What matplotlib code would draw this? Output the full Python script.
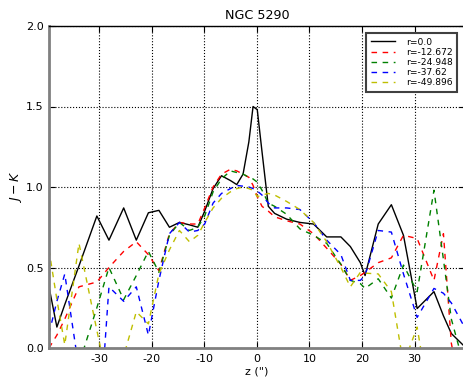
import matplotlib
matplotlib.use("Agg")
import matplotlib.pyplot as plt

plt.rcParams['font.family'] = ['DejaVu Sans']
plt.rcParams['axes.unicode_minus'] = False

# Position along the slit (arcsec)
z = [-39.5, -38.0, -36.5, -33.8, -30.4, -28.1, -25.3, -22.9, -20.6, -18.6,
     -16.6, -14.7, -12.8, -11.2, -9.9, -8.3, -6.7, -5.0, -3.8, -2.6,
     -1.5, -0.7, 0.1, 1.0, 2.2, 3.4, 5.7, 8.2, 10.8, 13.3,
     16.0, 17.8, 19.7, 20.6, 23.1, 25.6, 27.9, 30.5, 33.7, 35.5,
     37.0, 39.5]

# J-K colour profiles at several offsets r
jk_r0 = [0.38, 0.13, 0.27, 0.51, 0.82, 0.67, 0.87, 0.67, 0.84, 0.855,
         0.75, 0.78, 0.765, 0.75, 0.85, 0.99, 1.07, 1.04, 1.015, 1.08,
         1.28, 1.50, 1.48, 1.22, 0.88, 0.836, 0.80, 0.78, 0.77, 0.69,
         0.69, 0.63, 0.53, 0.45, 0.77, 0.89, 0.70, 0.245, 0.35, 0.20,
         0.09, 0.01]
jk_r1 = [0.00, 0.08, 0.18, 0.38, 0.41, 0.50, 0.60, 0.66, 0.58, 0.48,
         0.71, 0.78, 0.77, 0.77, 0.87, 1.00, 1.08, 1.11, 1.10, 1.08,
         1.06, 1.01, 0.94, 0.88, 0.85, 0.815, 0.79, 0.77, 0.71, 0.62,
         0.52, 0.42, 0.45, 0.47, 0.53, 0.56, 0.70, 0.68, 0.42, 0.71,
         0.03, -0.40]
jk_r2 = [-0.30, -0.30, -0.30, -0.10, 0.25, 0.50, 0.30, 0.45, 0.60, 0.47,
         0.70, 0.78, 0.73, 0.75, 0.82, 0.97, 1.05, 1.10, 1.09, 1.08,
         1.06, 1.05, 1.03, 0.98, 0.90, 0.88, 0.83, 0.74, 0.70, 0.65,
         0.52, 0.42, 0.40, 0.37, 0.43, 0.31, 0.515, 0.35, 0.98, 0.55,
         0.18, -0.12]
jk_r3 = [0.09, 0.29, 0.46, -0.13, -0.70, 0.38, 0.29, 0.38, 0.08, 0.42,
         0.71, 0.78, 0.72, 0.73, 0.77, 0.90, 0.96, 0.99, 1.01, 1.005,
         1.00, 0.99, 0.975, 0.95, 0.90, 0.87, 0.87, 0.86, 0.78, 0.67,
         0.58, 0.42, 0.42, 0.45, 0.73, 0.72, 0.46, 0.19, 0.37, 0.34,
         0.28, 0.13]
jk_r4 = [0.61, 0.30, 0.02, 0.65, 0.11, -0.25, -0.05, 0.225, 0.15, 0.46,
         0.61, 0.73, 0.66, 0.70, 0.78, 0.87, 0.93, 0.97, 0.99, 1.00,
         0.99, 0.98, 0.94, 0.95, 0.96, 0.95, 0.91, 0.86, 0.78, 0.66,
         0.50, 0.38, 0.47, 0.465, 0.46, 0.35, -0.10, 0.13, -0.50, -0.50,
         -0.50, -0.50]

labels = ['r=0.0', 'r=-12.672', 'r=-24.948', 'r=-37.62', 'r=-49.896']
xticks = [-30, -20, -10, 0, 10, 20, 30]
yticks = [0.0, 0.5, 1.0, 1.5, 2.0]

fig = plt.figure(figsize=(4.64, 3.81), dpi=100)
ax = fig.add_axes([49 / 464, 33 / 381, 416 / 464, 322 / 381])

ax.plot(z, jk_r0, color='black', lw=1.0, label=labels[0])
for vals, col, lab in zip([jk_r1, jk_r2, jk_r3, jk_r4],
                          ['#ff0000', '#008000', '#0000ff', '#bfbf00'],
                          labels[1:]):
    ax.plot(z, vals, color=col, lw=1.0, dashes=(4, 4), label=lab)

ax.set_xlim(-39.5, 39.6)
ax.set_ylim(0.0, 2.0)
ax.set_xticks(xticks)
ax.set_xticklabels([str(t) for t in xticks])
ax.set_yticks(yticks)
ax.set_yticklabels(['%.1f' % t for t in yticks])
ax.tick_params(direction='in', length=4, labelsize=8, pad=4,
               top=True, right=True)
ax.grid(True, color='black', linestyle=':', linewidth=0.8)

for side in ['left', 'bottom']:
    ax.spines[side].set_color('#808080')
    ax.spines[side].set_linewidth(2.0)
ax.spines['top'].set_linewidth(1.0)

ax.set_title('NGC 5290', fontsize=9.2, pad=5)
ax.set_xlabel('z (")', fontsize=8, labelpad=2)
ax.set_ylabel('$J-K$', fontsize=9, labelpad=1)

leg = ax.legend(loc='upper right', bbox_to_anchor=(0.981, 0.978),
                borderaxespad=0, fontsize=6.6, fancybox=False,
                handlelength=2.6, labelspacing=0.12, handletextpad=1.2,
                borderpad=0.5, framealpha=1)
leg.get_frame().set_edgecolor('#404040')
leg.get_frame().set_linewidth(1.5)

fig.savefig('out.png', dpi=100)
